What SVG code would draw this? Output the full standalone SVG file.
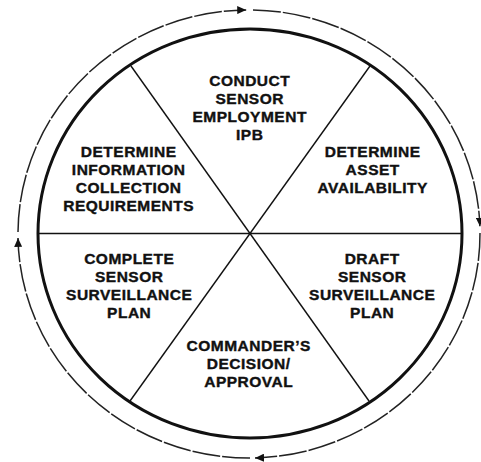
<svg xmlns="http://www.w3.org/2000/svg" width="481" height="462" viewBox="0 0 481 462">
<style>
.lbl{font-family:"Liberation Sans",Arial,sans-serif;font-weight:bold;font-size:15.5px;letter-spacing:0.5px;fill:#111;stroke:#111;stroke-width:0.4;text-anchor:middle}
.rim{fill:none;stroke:#111;stroke-width:3}
.spoke{stroke:#111;stroke-width:1.4;fill:none}
.flow{fill:none;stroke:#222;stroke-width:1.5;stroke-dasharray:28 2;marker-end:url(#ah)}
</style>
<defs>
<marker id="ah" markerWidth="10" markerHeight="8" refX="9" refY="4" orient="auto" markerUnits="userSpaceOnUse">
<path d="M0,0 L9,4 L0,8 Z" fill="#111"/>
</marker>
</defs>
<rect width="481" height="462" fill="#fff"/>
<g id="wheel">
<ellipse class="rim" cx="250" cy="233.5" rx="212" ry="204.5"/>
<line class="spoke" x1="38" y1="233.5" x2="462" y2="233.5"/>
<line class="spoke" x1="131" y1="66" x2="369" y2="401"/>
<line class="spoke" x1="370" y1="66" x2="130" y2="401"/>
</g>
<g id="connectors">
<path class="flow" d="M18,232 A231,224 0 0 1 246.2,10"/>
<path class="flow" d="M253,10 A231,224 0 0 1 479.9,226.2"/>
<path class="flow" d="M480,233 A231,224 0 0 1 255,457.9"/>
<path class="flow" d="M250,458 A231,224 0 0 1 18,237.9"/>
</g>
<g id="node-ipb">
<text class="lbl" x="249.7" y="86">CONDUCT</text>
<text class="lbl" x="249.7" y="104">SENSOR</text>
<text class="lbl" x="249.7" y="122">EMPLOYMENT</text>
<text class="lbl" x="249.7" y="140">IPB</text>
</g>
<g id="node-asset">
<text class="lbl" x="372.7" y="157">DETERMINE</text>
<text class="lbl" x="372.7" y="175">ASSET</text>
<text class="lbl" x="372.7" y="193">AVAILABILITY</text>
</g>
<g id="node-draft">
<text class="lbl" x="372.2" y="263.5">DRAFT</text>
<text class="lbl" x="372.2" y="281.5">SENSOR</text>
<text class="lbl" x="372.2" y="299.5">SURVEILLANCE</text>
<text class="lbl" x="372.2" y="317.5">PLAN</text>
</g>
<g id="node-approval">
<text class="lbl" x="248.7" y="350.5">COMMANDER’S</text>
<text class="lbl" x="248.7" y="368.5">DECISION/</text>
<text class="lbl" x="248.7" y="386.5">APPROVAL</text>
</g>
<g id="node-complete">
<text class="lbl" x="129.2" y="263.5">COMPLETE</text>
<text class="lbl" x="129.2" y="281.5">SENSOR</text>
<text class="lbl" x="129.2" y="299.5">SURVEILLANCE</text>
<text class="lbl" x="129.2" y="317.5">PLAN</text>
</g>
<g id="node-requirements">
<text class="lbl" x="128.7" y="157">DETERMINE</text>
<text class="lbl" x="128.7" y="175">INFORMATION</text>
<text class="lbl" x="128.7" y="193">COLLECTION</text>
<text class="lbl" x="128.7" y="211">REQUIREMENTS</text>
</g>
</svg>
